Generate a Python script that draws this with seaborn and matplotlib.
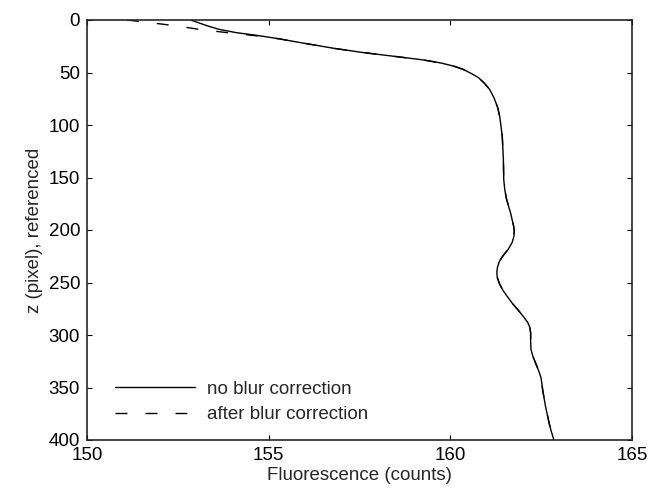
import pandas as pd
import seaborn as sns
import matplotlib.pyplot as plt

# depth profile, z in pixel (referenced)
z = [0, 3, 6, 9, 12, 15, 18, 22, 27, 31, 35, 38, 41, 44, 47, 51, 55, 60, 66,
     74, 83, 92, 111, 133, 152, 162, 171, 184, 196, 201, 206, 212, 218, 225,
     230, 235, 240, 245, 251, 257, 263, 270, 276, 282, 288, 293, 298, 306,
     314, 321, 327, 334, 340, 346, 352, 360, 368, 376, 384, 392, 400]

tail = [155.3, 155.95, 156.8, 157.6, 158.55, 159.25, 159.75, 160.1, 160.35,
        160.58, 160.78, 160.93, 161.08, 161.2, 161.3, 161.36, 161.43, 161.46,
        161.47, 161.5, 161.55, 161.66, 161.74, 161.76, 161.75, 161.7, 161.6,
        161.44, 161.35, 161.3, 161.28, 161.29, 161.35, 161.44, 161.56, 161.71,
        161.86, 162.0, 162.13, 162.19, 162.21, 162.21, 162.22, 162.28, 162.35,
        162.43, 162.49, 162.52, 162.54, 162.58, 162.62, 162.67, 162.72,
        162.78, 162.85]

# the two profiles only differ in the first few pixels
no_blur = [152.85, 153.1, 153.35, 153.65, 154.1, 154.75] + tail
after_blur = [151.1, 151.85, 152.55, 153.1, 153.85, 154.65] + tail

labels = ["no blur correction", "after blur correction"]
xticks = [150, 155, 160, 165]
yticks = [0, 50, 100, 150, 200, 250, 300, 350, 400]

df = pd.concat([
    pd.DataFrame({"z": z, "fluor": no_blur, "series": labels[0]}),
    pd.DataFrame({"z": z, "fluor": after_blur, "series": labels[1]}),
], ignore_index=True)

sns.set_style("ticks")
plt.rcParams["font.family"] = ["Liberation Sans", "DejaVu Sans"]
plt.rcParams["font.size"] = 13.5
plt.rcParams["lines.scale_dashes"] = False

fig = plt.figure(figsize=(6.5, 4.99), dpi=100)
ax = fig.add_axes([87 / 650, 59 / 499, 545 / 650, 420 / 499])

sns.lineplot(data=df, x="fluor", y="z", style="series", hue="series",
             palette={labels[0]: "black", labels[1]: "black"},
             dashes={labels[0]: "", labels[1]: (8.6, 13)},
             sort=False, estimator=None, linewidth=1.0, ax=ax)

ax.set_xlim(150, 165)
ax.set_ylim(400, 0)
ax.set_xticks(xticks)
ax.set_yticks(yticks)
ax.set_xlabel("Fluorescence (counts)", labelpad=2)
ax.set_ylabel("z (pixel), referenced")

for s in ax.spines.values():
    s.set_linewidth(1.2)
    s.set_visible(True)
ax.tick_params(direction="in", length=3.6, width=0.8, top=True, right=True,
               labelsize=13.5, pad=5, colors="black")

handles, _ = ax.get_legend_handles_labels()
ax.legend(handles=handles, labels=labels, frameon=False, loc="lower left",
          bbox_to_anchor=(0.02, 0.0), handlelength=4.3, handletextpad=0.6,
          labelspacing=0.45, fontsize=13.5)

fig.savefig("out.png", dpi=100)
